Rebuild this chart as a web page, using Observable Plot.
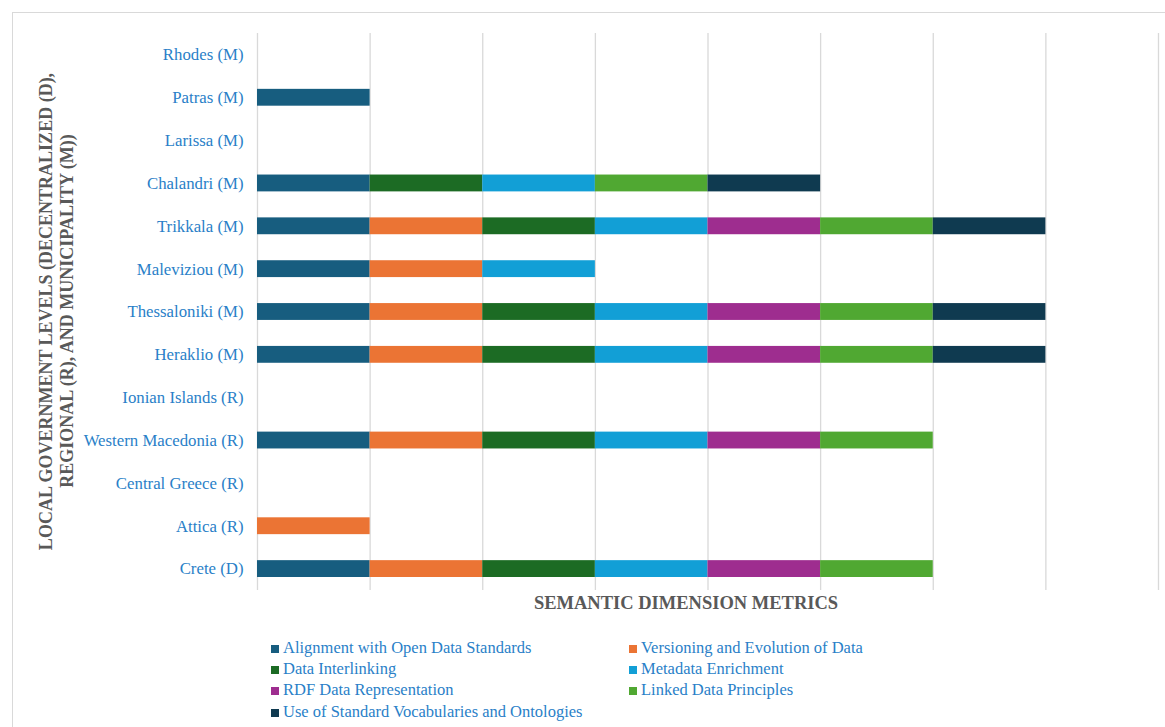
<!DOCTYPE html>
<html>
<head>
<meta charset="utf-8">
<script src="https://cdn.jsdelivr.net/npm/d3@7"></script>
<script src="https://cdn.jsdelivr.net/npm/@observablehq/plot@0.6"></script>
<style>
  html, body { margin: 0; padding: 0; background: #fff; overflow: hidden; width: 1165px; height: 727px; }
  #frame { position: absolute; left: 12px; top: 12px; width: 1200px; height: 800px; border: 1.5px solid #d9d9d9; box-sizing: border-box; }
  #chart { position: absolute; left: 0; top: 0; }
  #legend { position: absolute; left: 0; top: 0; width: 1165px; height: 727px; font-family: "Liberation Serif", "Times New Roman", serif; font-size: 16.5px; color: #2a7fc8; }
  .item { position: absolute; white-space: nowrap; line-height: 1; }
  .sw { position: absolute; width: 8px; height: 8px; }
</style>
</head>
<body>
<div id="frame"></div>
<div id="chart"></div>
<div id="legend"></div>
<script>
const categories = [
  "Rhodes (M)", "Patras (M)", "Larissa (M)", "Chalandri (M)", "Trikkala (M)",
  "Maleviziou (M)", "Thessaloniki (M)", "Heraklio (M)", "Ionian Islands (R)",
  "Western Macedonia (R)", "Central Greece (R)", "Attica (R)", "Crete (D)"
];
const metrics = [
  "Alignment with Open Data Standards",
  "Versioning and Evolution of Data",
  "Data Interlinking",
  "Metadata Enrichment",
  "RDF Data Representation",
  "Linked Data Principles",
  "Use of Standard Vocabularies and Ontologies"
];
const colors = ["#175d7f", "#eb7434", "#1c6b24", "#129fd6", "#9e2d8f", "#50a832", "#0f3a50"];
// values per metric, in category order (top to bottom)
const alignment    = [0, 1, 0, 1, 1, 1, 1, 1, 0, 1, 0, 0, 1];
const versioning   = [0, 0, 0, 0, 1, 1, 1, 1, 0, 1, 0, 1, 1];
const interlinking = [0, 0, 0, 1, 1, 0, 1, 1, 0, 1, 0, 0, 1];
const metadata     = [0, 0, 0, 1, 1, 1, 1, 1, 0, 1, 0, 0, 1];
const rdf          = [0, 0, 0, 0, 1, 0, 1, 1, 0, 1, 0, 0, 1];
const linked       = [0, 0, 0, 1, 1, 0, 1, 1, 0, 1, 0, 0, 1];
const vocab        = [0, 0, 0, 1, 1, 0, 1, 1, 0, 0, 0, 0, 0];
const xTicks = [0, 1, 2, 3, 4, 5, 6, 7, 8];
const yTitle1 = "LOCAL GOVERNMENT LEVELS (DECENTRALIZED (D),";
const yTitle2 = "REGIONAL (R), AND MUNICIPALITY (M))";
const xTitle = "SEMANTIC DIMENSION METRICS";

const series = [alignment, versioning, interlinking, metadata, rdf, linked, vocab];
const rows = [];
metrics.forEach((m, i) => {
  categories.forEach((c, j) => {
    if (series[i][j] > 0) rows.push({category: c, metric: m, value: series[i][j]});
  });
});

const titleStyle = {textAnchor: "middle", lineAnchor: "middle", fontWeight: "bold", fill: "#595959", rotate: -90, fontSize: 18, text: d => d};

const chart = Plot.plot({
  width: 1165,
  height: 620,
  marginLeft: 257,
  marginRight: 7,
  marginTop: 33,
  marginBottom: 30,
  style: {fontFamily: "'Liberation Serif', 'Times New Roman', serif", background: "transparent"},
  x: {domain: [0, 8], axis: null},
  y: {domain: categories, padding: 0, round: false, label: null},
  color: {domain: metrics, range: colors},
  marks: [
    Plot.ruleX(xTicks, {stroke: "#d9d9d9", strokeWidth: 1.3}),
    Plot.barX(rows, Plot.stackX({
      x: "value", y: "category", fill: "metric", order: metrics,
      insetTop: 13, insetBottom: 13
    })),
    Plot.axisY({tickSize: 0, tickPadding: 14, fontSize: 16.8, fill: "#2a7fc8", label: null}),
    Plot.text([yTitle1], {...titleStyle, frameAnchor: "left", dx: -211, dy: -0.5}),
    Plot.text([yTitle2], {...titleStyle, frameAnchor: "left", dx: -190, dy: -1}),
    Plot.text([xTitle], {
      frameAnchor: "bottom", dx: -22, dy: 13, text: d => d,
      fontSize: 18.5, fontWeight: "bold", fill: "#595959", lineAnchor: "middle"
    })
  ]
});
document.getElementById("chart").appendChild(chart);

// legend
const legend = document.getElementById("legend");
const colX = [271, 629];
const rowY = [649, 670, 691, 713];
metrics.forEach((m, i) => {
  const col = i % 2, row = Math.floor(i / 2);
  const sw = document.createElement("div");
  sw.className = "sw";
  sw.style.left = colX[col] + "px";
  sw.style.top = (rowY[row] - 4) + "px";
  sw.style.background = colors[i];
  legend.appendChild(sw);
  const t = document.createElement("div");
  t.className = "item";
  t.textContent = m;
  t.style.left = (colX[col] + 12) + "px";
  t.style.top = (rowY[row] - 9) + "px";
  legend.appendChild(t);
});
</script>
</body>
</html>
